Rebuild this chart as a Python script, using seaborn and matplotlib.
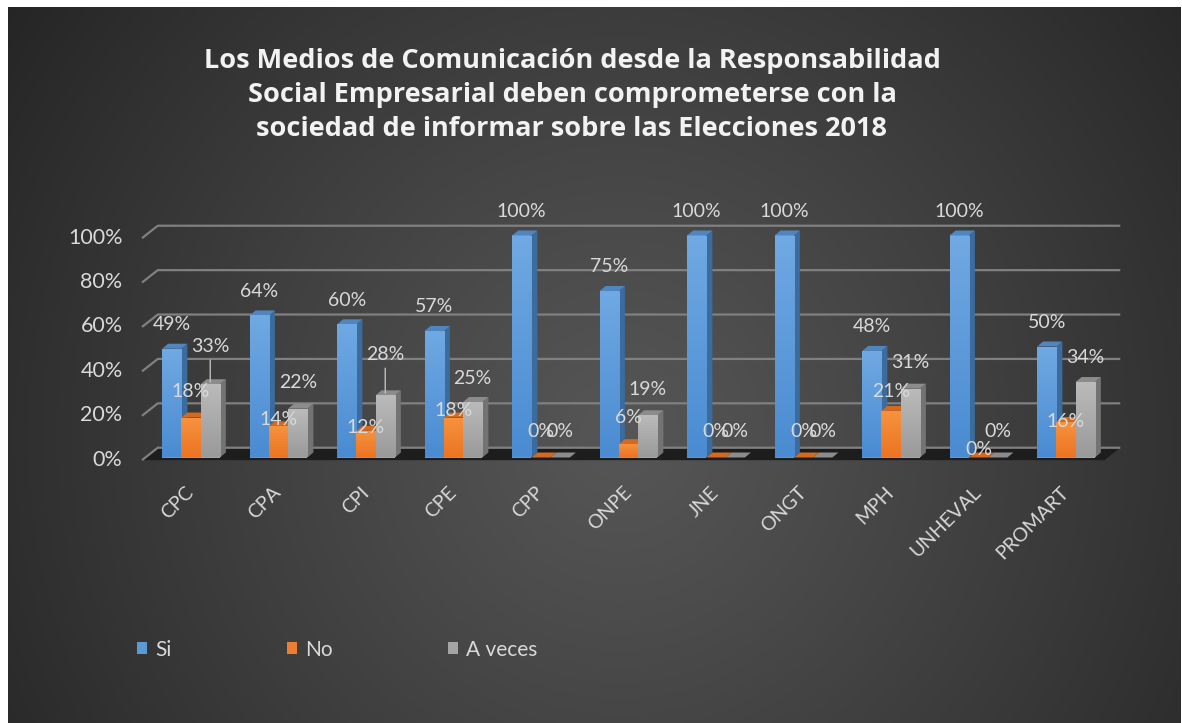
import numpy as np
import pandas as pd
import matplotlib
matplotlib.use("Agg")
import matplotlib.pyplot as plt
from matplotlib.patches import Polygon
from matplotlib.colors import LinearSegmentedColormap
import seaborn as sns

# ---- data -------------------------------------------------------------
categories = ["CPC", "CPA", "CPI", "CPE", "CPP", "ONPE", "JNE", "ONGT",
              "MPH", "UNHEVAL", "PROMART"]
si = [49, 64, 60, 57, 100, 75, 100, 100, 48, 100, 50]
no = [18, 14, 12, 18, 0, 6, 0, 0, 21, 0, 16]
a_veces = [33, 22, 28, 25, 0, 19, 0, 0, 31, 0, 34]
series_names = ["Si", "No", "A veces"]
y_ticks = [0, 20, 40, 60, 80, 100]
title = ("Los Medios de Comunicación desde la Responsabilidad\n"
         "Social Empresarial deben comprometerse con la\n"
         "sociedad de informar sobre las Elecciones 2018")

# vertical offsets (pixels) of each value label above its bar
label_offsets = [
    [24] * 11,
    [26, 7, 3, 7, 26, 27, 26, 26, 19, 8, 0],
    [38, 26, 41, 24, 26, 26, 26, 26, 26, 26, 25],
]

df = pd.DataFrame({
    "categoria": categories * 3,
    "serie": np.repeat(series_names, len(categories)),
    "valor": si + no + a_veces,
})

# ---- style ------------------------------------------------------------
sns.set_theme(style="white")
plt.rcParams["font.family"] = ["Lato", "DejaVu Sans"]
TXT = "#d9d9d9"

palette = {"Si": "#5B9BD5", "No": "#ED7D31", "A veces": "#A5A5A5"}
front_grad = {"Si": ("#70A9E3", "#4A8BD1"),
              "No": ("#F6933F", "#EC7422"),
              "A veces": ("#BBBBBB", "#9A9A9A")}
side_col = {"Si": "#3B6C9D", "No": "#B25B1C", "A veces": "#737373"}
top_col = {"Si": "#4F86C0", "No": "#D46A20", "A veces": "#8C8C8C"}

W, H = 1182, 723
fig = plt.figure(figsize=(W / 100, H / 100), dpi=100, facecolor="white")

# radial background
bg = fig.add_axes([8 / W, 0, (W - 9) / W, (H - 7) / H], zorder=-10)
bw, bh = W - 9, H - 7
X, Y = np.meshgrid(np.arange(bw), np.arange(bh))
r = np.sqrt(((X - 612) / 760.0) ** 2 + ((Y - 430) / 780.0) ** 2)
t = np.clip(r, 0, 1) ** 1.1
shade = (86 * (1 - t) + 36 * t) / 255.0
bg.imshow(np.dstack([shade] * 3), aspect="auto", interpolation="bilinear")
bg.set_axis_off()

# plotting area: 0% sits at y=457.5 px, 100% spans 222 px, one group = 87.5 px
px_per_unit = 87.5
px_per_pct = 2.22
x_min, x_max = -0.6, 10.65
y_max = 110
ax_left = 191 - (0 - x_min) * px_per_unit
ax = fig.add_axes([ax_left / W, (H - 457.5) / H,
                   (x_max - x_min) * px_per_unit / W, y_max * px_per_pct / H],
                  zorder=1)
ax.set_facecolor("none")

sns.barplot(data=df, x="categoria", y="valor", hue="serie",
            order=categories, hue_order=series_names, palette=palette,
            width=0.66, saturation=1, errorbar=None, ax=ax, linewidth=0)

dx = 6 / px_per_unit      # depth of the 3-D faces
dy = 5 / px_per_pct

# back wall gridlines and floor
fl, bl, br = -0.56, -0.38, 10.62
ax.add_patch(Polygon([(fl, -1.2), (br - 0.18, -1.2), (br, 4.4), (bl, 4.4)],
                     closed=True, facecolor="#1d1d1d", edgecolor="none",
                     zorder=0.4, clip_on=False))
for v in y_ticks:
    ax.plot([fl, bl, br], [v - 1.2, v + 4.4, v + 4.4], color="#808080",
            lw=1.6, zorder=0.5, clip_on=False, solid_capstyle="butt")

# 3-D faces, gradients and value labels
for si_idx, (name, cont) in enumerate(zip(series_names, ax.containers)):
    z = 2 + si_idx * 0.1
    cmap = LinearSegmentedColormap.from_list(name, front_grad[name][::-1])
    for j, rect in enumerate(cont):
        x0, w, h = rect.get_x(), rect.get_width(), rect.get_height()
        x1 = x0 + w
        ax.add_patch(Polygon([(x1, 0), (x1 + dx, dy), (x1 + dx, h + dy), (x1, h)],
                             closed=True, facecolor=side_col[name],
                             edgecolor="none", zorder=z, clip_on=False))
        ax.add_patch(Polygon([(x0, h), (x1, h), (x1 + dx, h + dy), (x0 + dx, h + dy)],
                             closed=True, facecolor=top_col[name],
                             edgecolor="none", zorder=z + 0.01, clip_on=False))
        rect.set_zorder(z + 0.02)
        rect.set_clip_on(False)
        if h > 0:
            im = ax.imshow(np.linspace(0, 1, 64).reshape(-1, 1), cmap=cmap,
                           extent=(x0, x1, 0, h), origin="lower",
                           aspect="auto", zorder=z + 0.03)
            im.set_clip_path(rect)
        off = label_offsets[si_idx][j]
        cx = x0 + w / 2
        ax.annotate(f"{int(h)}%", xy=(cx, h), xytext=(0, off),
                    textcoords="offset pixels", ha="center", va="center",
                    fontsize=14, color=TXT, zorder=5, annotation_clip=False)
        if off > 30:
            ax.annotate("", xy=(cx, h + 1), xytext=(0, off - 16),
                        textcoords="offset pixels",
                        arrowprops=dict(arrowstyle="-", color="#bfbfbf", lw=1,
                                        shrinkA=0, shrinkB=0),
                        zorder=5, annotation_clip=False)

ax.set_xlim(x_min, x_max)
ax.set_ylim(0, y_max)
for s in ax.spines.values():
    s.set_visible(False)
ax.grid(False)
ax.set_xlabel("")
ax.set_ylabel("")
ax.set_yticks(y_ticks)
ax.set_yticklabels([f"{v}%" for v in y_ticks])
ax.tick_params(axis="y", length=0, pad=11.5, labelsize=15.5, labelcolor=TXT)
ax.set_xticks(range(len(categories)))
ax.set_xticklabels(categories)
ax.tick_params(axis="x", length=0, pad=23, labelsize=14, labelcolor=TXT)
for lab in ax.get_xticklabels():
    lab.set_rotation(45)
    lab.set_ha("right")
    lab.set_va("center")
    lab.set_rotation_mode("anchor")

# legend along the bottom
leg = ax.get_legend()
handles = leg.legend_handles
labels = [tx.get_text() for tx in leg.get_texts()]
leg.remove()
lg = fig.legend(handles, labels, loc="center left",
                bbox_to_anchor=(137 / W, (H - 649.5) / H), ncol=3,
                frameon=False, fontsize=15, handlelength=0.48,
                handleheight=0.48, handletextpad=0.38, columnspacing=5.55,
                borderpad=0, borderaxespad=0)
for tx in lg.get_texts():
    tx.set_color(TXT)

fig.text(572 / W, (H - 95) / H, title, ha="center", va="center",
         fontsize=19.5, fontweight="bold", family=["Open Sans", "DejaVu Sans"],
         color="#f2f2f2", linespacing=1.38)

fig.savefig("out.png", dpi=100, facecolor="white")
